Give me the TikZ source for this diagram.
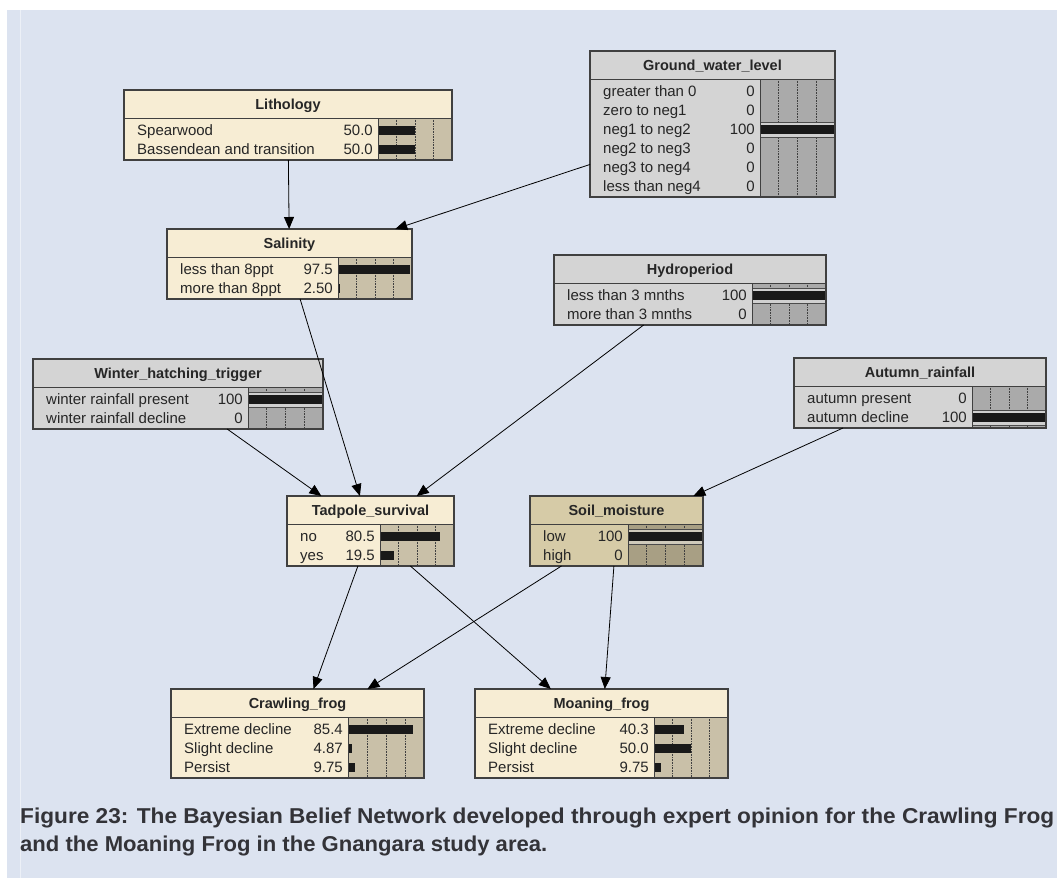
\documentclass[tikz,border=0pt]{standalone}
\usepackage{fontspec}
\setmainfont{Liberation Sans}
\usepackage{tikz}
\usetikzlibrary{arrows.meta, calc}

\definecolor{paneblue}{HTML}{DCE3F0}
\definecolor{cream}{HTML}{F7EDD4}
\definecolor{creambar}{HTML}{C9C0A8}
\definecolor{netgrey}{HTML}{D4D4D4}
\definecolor{netgreybar}{HTML}{AAAAAA}
\definecolor{soil}{HTML}{D6CBA7}
\definecolor{soilbar}{HTML}{A89F84}
\definecolor{captiontext}{HTML}{333338}

\tikzstyle{netnode} = [rectangle, draw=black!75, line width=1.3pt, outer sep=0pt, inner sep=0pt]
\tikzstyle{netborder} = [draw=black!75, line width=1.3pt]
\tikzstyle{nettitle} = [font=\fontsize{14.5}{17}\selectfont\bfseries, text=black!85, inner sep=0pt]
\tikzstyle{statetext} = [font=\fontsize{15}{18}\selectfont, text=black!85, inner sep=0pt]
\tikzstyle{gridline} = [densely dotted, line width=0.6pt, black!75]
\tikzstyle{probbar} = [fill=black!90]
\tikzstyle{arrow} = [line width=0.8pt, -{Triangle[length=12pt, width=10pt]}]
\tikzstyle{caption} = [font=\fontsize{21.5}{26}\selectfont\bfseries, text=captiontext, inner sep=0pt]

% belief node: name, colour, top left corner, width, width of state column, title, states (name/value/percent/finding)
\newcommand{\beliefnode}[7]{%
  \foreach \st [count=\k] in {#7} {\xdef\nrows{\k}}
  \pgfmathsetmacro{\hgt}{32+19*\nrows}
  \node[netnode, fill=#2, minimum width=#4pt, minimum height=\hgt pt, anchor=north west] (#1) at (#3) {};
  \begin{scope}[shift={(#1.north west)}]
    \fill[#2bar] (#5,28) rectangle (#4,\hgt);
    \foreach \q in {0.25,0.5,0.75}
      \draw[gridline] ({#5+(#4-#5)*\q},28) -- ({#5+(#4-#5)*\q},\hgt);
    \foreach \st/\val/\pc/\fd [count=\k] in {#7} {
      \pgfmathsetmacro{\yc}{28+3+19*(\k-0.5)}
      \ifnum\fd=1\relax
        \filldraw[fill=#2bar!55!white, draw=black!70, line width=0.6pt] (#5,\yc-7.5) rectangle (#4,\yc+7.5);
      \fi
      \fill[probbar] (#5,\yc-4.3) rectangle ({#5+(#4-#5)*\pc/100},\yc+4.3);
      \node[statetext, anchor=base west] at (13,\yc+5.3) {\st};
      \node[statetext, anchor=base east] at (#5-5,\yc+5.3) {\val};
    }
    \draw[black!75, line width=1pt] (0,28) -- (#4,28) (#5,28) -- (#5,\hgt);
    \node[nettitle, anchor=base] at ({#4/2},19.3) {#6};
  \end{scope}
  \draw[netborder] (#1.north west) rectangle (#1.south east);
}

\begin{document}
\begin{tikzpicture}[x=1pt, y=-1pt]
    \useasboundingbox (0,0) rectangle (1057,878);
    \fill[white] (0,0) rectangle (1057,878);
    \fill[paneblue] (7,10) rectangle (1057,878);
    \draw[white!45!paneblue, line width=1pt] (20,10) -- (20,878);

    % site conditions
    \beliefnode{Lithology}{cream}{124,90}{328}{254}{Lithology}{Spearwood/50.0/50/0, Bassendean and transition/50.0/50/0}
    \beliefnode{GroundWater}{netgrey}{590,51}{245}{170}{Ground\_water\_level}{greater than 0/0/0/0, zero to neg1/0/0/0, neg1 to neg2/100/100/1, neg2 to neg3/0/0/0, neg3 to neg4/0/0/0, less than neg4/0/0/0}
    \beliefnode{Salinity}{cream}{167,229}{245}{171}{Salinity}{less than 8ppt/97.5/97.5/0, more than 8ppt/2.50/2.5/0}
    \beliefnode{Hydroperiod}{netgrey}{554,255}{272}{198}{Hydroperiod}{less than 3 mnths/100/100/1, more than 3 mnths/0/0/0}

    % rainfall
    \beliefnode{WinterTrigger}{netgrey}{33,359}{290}{215}{Winter\_hatching\_trigger}{winter rainfall present/100/100/1, winter rainfall decline/0/0/0}
    \beliefnode{AutumnRain}{netgrey}{794,358}{252}{178}{Autumn\_rainfall}{autumn present/0/0/0, autumn decline/100/100/1}

    % intermediate
    \beliefnode{Tadpole}{cream}{287,496}{167}{93}{Tadpole\_survival}{no/80.5/80.5/0, yes/19.5/19.5/0}
    \beliefnode{SoilMoisture}{soil}{530,496}{173}{98}{Soil\_moisture}{low/100/100/1, high/0/0/0}

    % frogs
    \beliefnode{CrawlingFrog}{cream}{171,689}{253}{177}{Crawling\_frog}{Extreme decline/85.4/85.4/0, Slight decline/4.87/4.87/0, Persist/9.75/9.75/0}
    \beliefnode{MoaningFrog}{cream}{475,689}{253}{179}{Moaning\_frog}{Extreme decline/40.3/40.3/0, Slight decline/50.0/50/0, Persist/9.75/9.75/0}

    % links
    \draw [arrow] (Lithology) -- (Salinity);
    \draw [arrow] (GroundWater) -- (Salinity);
    \draw [arrow] (Salinity) -- (Tadpole);
    \draw [arrow] (WinterTrigger) -- (Tadpole);
    \draw [arrow] (Hydroperiod) -- (Tadpole);
    \draw [arrow] (AutumnRain) -- (SoilMoisture);
    \draw [arrow] (Tadpole) -- (CrawlingFrog);
    \draw [arrow] (Tadpole) -- (MoaningFrog);
    \draw [arrow] (SoilMoisture) -- (CrawlingFrog);
    \draw [arrow] (SoilMoisture) -- (MoaningFrog);

    % caption
    \node[caption, anchor=west] (CaptionTop) at (20,818) {\resizebox{1034pt}{\height}{Figure 23: The Bayesian Belief Network developed through expert opinion for the Crawling Frog}};
    \node[caption, anchor=west] (CaptionBottom) at (20,846) {\resizebox{527pt}{\height}{and the Moaning Frog in the Gnangara study area.}};
\end{tikzpicture}
\end{document}
